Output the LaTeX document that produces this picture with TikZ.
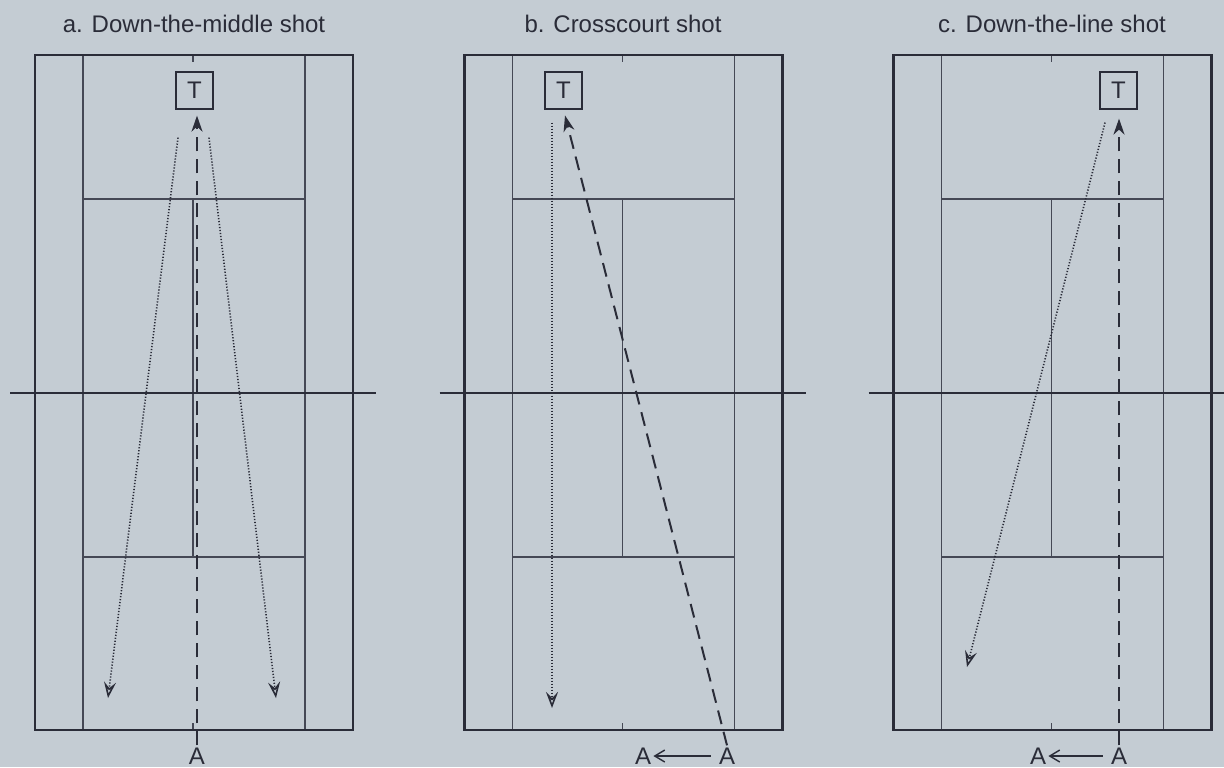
\documentclass[tikz,border=0pt]{standalone}
\usepackage{fontspec}
\setmainfont{Liberation Sans}
\usetikzlibrary{arrows.meta}
\definecolor{paper}{HTML}{C4CCD3}
\definecolor{ink}{HTML}{2A2C38}
\definecolor{rule}{HTML}{454855}
\tikzset{
  court/.style={draw=ink, line width=1.2pt},
  courtline/.style={draw=rule, line width=0.7pt},
  netline/.style={draw=ink, line width=1.2pt},
  title/.style={font=\fontsize{12}{14}\selectfont, text=ink, inner sep=1pt},
  target/.style={draw=ink, line width=0.6pt, minimum size=18.5pt, inner sep=0pt,
                 font=\fontsize{12}{14}\selectfont, text=ink},
  player/.style={font=\fontsize{12}{14}\selectfont, text=ink, inner sep=1pt},
  dashshot/.style={-{Stealth[length=8pt, width=5.5pt, inset=2.5pt]}, line width=1pt,
                   dash pattern=on 7pt off 4pt, draw=ink},
  dotshot/.style={-{Stealth[length=8pt, width=6pt, inset=3pt, open, line width=0.8pt]},
                  line width=0.8pt, dash pattern=on 0.6pt off 0.9pt, draw=ink},
  move/.style={-{Straight Barb[length=5pt, width=6pt]}, line width=0.7pt, draw=ink},
}
\begin{document}
\begin{tikzpicture}[x=0.5pt, y=-0.5pt]
  \useasboundingbox[fill=paper] (0,0) rectangle (1224,767);

  % courts
  \foreach \cx in {194,623.5,1052.5} {
    \draw[courtline] (\cx-111,55) -- (\cx-111,730) (\cx+111,55) -- (\cx+111,730);
    \draw[courtline] (\cx-111,199) -- (\cx+111,199) (\cx-111,557) -- (\cx+111,557);
    \draw[courtline] (\cx-1,199) -- (\cx-1,557);
    \draw[courtline] (\cx-1,55) -- (\cx-1,62) (\cx-1,723) -- (\cx-1,730);
    \draw[court] (\cx-159,55) rectangle (\cx+159,730);
    \draw[netline] (\cx-184,393) -- (\cx+182,393);
  }

  \node[title] (tia) at (194,24) {a. Down-the-middle shot};
  \node[title] (tib) at (623,24) {b. Crosscourt shot};
  \node[title] (tic) at (1052,24) {c. Down-the-line shot};

  \node[target] (ta) at (194.5,90.5) {T};
  \node[target] (tb) at (563.5,90.5) {T};
  \node[target] (tc) at (1118.5,90.5) {T};

  \node[player] (aa) at (197,756) {A};
  \node[player] (ab) at (727,756) {A};
  \node[player] (abn) at (643,756) {A};
  \node[player] (ac) at (1119,756) {A};
  \node[player] (acn) at (1038,756) {A};

  \coordinate (la) at (108,698);
  \coordinate (ra) at (276,698);
  \coordinate (lb) at (552,708);
  \coordinate (lc) at (967,667);

  % a
  \draw[dashshot, shorten >=3pt] (aa.north) -- (aa.north |- ta.south);
  \draw[dotshot] ([shift={(-16.5,28)}]ta.south) -- (la);
  \draw[dotshot] ([shift={(14.5,28)}]ta.south) -- (ra);

  % b
  \draw[dashshot, shorten >=3pt] (ab.north) -- (tb.south);
  \draw[dotshot] ([shift={(-11.5,13)}]tb.south) -- (lb);
  \draw[move, shorten <=3pt] (ab.west) -- (abn.east);

  % c
  \draw[dashshot, shorten >=4.5pt] (ac.north) -- (ac.north |- tc.south);
  \draw[dotshot] ([shift={(-13.5,13)}]tc.south) -- (lc);
  \draw[move, shorten <=3pt] (ac.west) -- (acn.east);
\end{tikzpicture}
\end{document}
